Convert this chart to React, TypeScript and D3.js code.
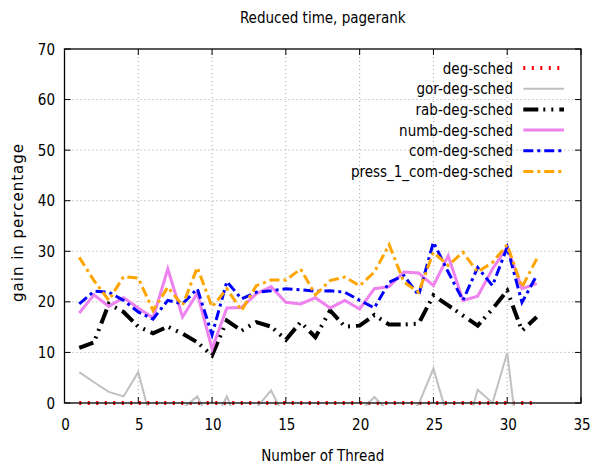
import React from "react";
import * as d3 from "d3";

const threads = d3.range(1, 33);
const degSched = threads.map(() => 0);
const gorDegSched = [6.1, 4.1, 2.2, 1.3, 6.1, -5, -4, -1.1, 1.3, -4.4, 1.3, -5.9, -1.0, 2.5, -3.3, -3, -3, -3, -3, -1.8, 1.2, -1.8, -3, -0.2, 6.8, -3.2, -7.8, 2.6, 0, 9.9, -14, -5];
const rabDegSched = [10.9, 12, 19.6, 18, 15.1, 13.8, 15.1, 13.7, 12, 9.4, 16.3, 14.3, 16, 15.1, 12.5, 16, 13, 18.3, 15.1, 15.3, 17.4, 15.5, 15.5, 15.7, 21.3, 19.3, 17.3, 15.3, 18.6, 22.2, 14.3, 17];
const numbDegSched = [17.8, 21.4, 19.1, 20.8, 18.8, 16.8, 26.5, 17, 21.7, 10.7, 18.8, 18.9, 21.6, 23, 19.9, 19.6, 20.8, 18.8, 20.3, 18.6, 22.6, 23, 25.9, 25.7, 23.2, 29.1, 20.3, 21.1, 26.5, 30.8, 22.6, 23.6];
const comDegSched = [19.6, 22.1, 21.9, 20.3, 18, 16.6, 20.3, 19.6, 22.6, 13.5, 24, 20.6, 21.9, 22.2, 22.6, 22.4, 22.1, 22.2, 21.9, 20.3, 18.8, 23.9, 25.2, 21.3, 31.8, 25.9, 20.3, 26.8, 23.2, 30.8, 19.9, 25.2];
const press1ComDegSched = [28.8, 24.2, 20.3, 25, 24.7, 18.3, 22.9, 19.3, 26.8, 19, 22.6, 18.3, 23.2, 24.3, 24.3, 26.5, 21.4, 24.2, 24.9, 23.2, 25.9, 31.3, 23.9, 21.9, 29.8, 27.2, 29.8, 25.9, 27.8, 31.3, 22.9, 28.5];

const xTicks = [0, 5, 10, 15, 20, 25, 30, 35];
const yTicks = [0, 10, 20, 30, 40, 50, 60, 70];
const title = "Reduced time, pagerank";
const xLabel = "Number of Thread";
const yLabel = "gain in percentage";

const seriesNames = ["deg-sched", "gor-deg-sched", "rab-deg-sched", "numb-deg-sched", "com-deg-sched", "press_1_com-deg-sched"];
const seriesValues = [degSched, gorDegSched, rabDegSched, numbDegSched, comDegSched, press1ComDegSched];
const seriesStyles = [
  { color: "#ff0000", width: 4, dash: "2 6.5" },
  { color: "#c0c0c0", width: 2, dash: "" },
  { color: "#000000", width: 4, dash: "15 5 2 6 2 6" },
  { color: "#ee82ee", width: 3, dash: "" },
  { color: "#0000ff", width: 3, dash: "10 4 3 4" },
  { color: "#ffa500", width: 3, dash: "10 4 3 4" },
];

const W = 594, H = 468;
const L = 64.5, R = 581, T = 49, B = 403;
const FONT = "'DejaVu Sans Condensed', 'DejaVu Sans', sans-serif";

export default function App() {
  const x = d3.scaleLinear().domain([0, 35]).range([L, R]);
  const y = d3.scaleLinear().domain([0, 70]).range([B, T]);
  const line = d3.line<number>().x((_, i) => x(threads[i])).y((d) => y(d));
  const tick = 6;
  return (
    <svg width={W} height={H} style={{ position: "absolute", left: 0, top: 0, background: "#fff" }} fontFamily={FONT}>
      <defs>
        <clipPath id="plot">
          <rect x={L} y={T} width={R - L} height={B - T + 3} />
        </clipPath>
      </defs>
      <rect x={0} y={0} width={W} height={H} fill="#fff" />
      {/* grid */}
      {xTicks.filter((t) => t > 0 && t < 35).map((t) => (
        <line key={"gx" + t} x1={x(t)} x2={x(t)} y1={T} y2={B} stroke="#a0a0a0" strokeWidth={1} strokeDasharray="1 3" />
      ))}
      {yTicks.filter((t) => t > 0 && t < 70).map((t) => (
        <line key={"gy" + t} x1={L} x2={R} y1={y(t)} y2={y(t)} stroke="#a0a0a0" strokeWidth={1} strokeDasharray="1 3" />
      ))}
      {/* ticks */}
      {xTicks.map((t) => (
        <g key={"tx" + t}>
          <line x1={x(t)} x2={x(t)} y1={B} y2={B - tick} stroke="#000" />
          <line x1={x(t)} x2={x(t)} y1={T} y2={T + tick} stroke="#000" />
          <text x={x(t) + 1} y={430} textAnchor="middle" fontSize={15} fontStretch="condensed">{t}</text>
        </g>
      ))}
      {yTicks.map((t) => (
        <g key={"ty" + t}>
          <line x1={L} x2={L + tick} y1={y(t)} y2={y(t)} stroke="#000" />
          <line x1={R} x2={R - tick} y1={y(t)} y2={y(t)} stroke="#000" />
          <text x={55} y={y(t) + 5.5} textAnchor="end" fontSize={15} fontStretch="condensed">{t}</text>
        </g>
      ))}
      {/* series */}
      <g clipPath="url(#plot)">
        {seriesValues.map((vals, i) => (
          <path key={"s" + i} d={line(vals) || ""} fill="none" stroke={seriesStyles[i].color}
            strokeWidth={seriesStyles[i].width} strokeDasharray={seriesStyles[i].dash || undefined}
            strokeLinejoin="miter" strokeLinecap="butt" />
        ))}
      </g>
      {/* frame */}
      <rect x={L} y={T} width={R - L} height={B - T} fill="none" stroke="#000" strokeWidth={1.3} />
      {/* legend */}
      {seriesNames.map((n, i) => {
        const ly = 68 + i * 20.7;
        const s = seriesStyles[i];
        return (
          <g key={"lg" + i}>
            <text x={513} y={ly + 5.5} textAnchor="end" fontSize={15} fontStretch="condensed">{n}</text>
            <line x1={523.3} x2={564} y1={ly} y2={ly} stroke={s.color} strokeWidth={s.width}
              strokeDasharray={s.dash || undefined} />
          </g>
        );
      })}
      {/* labels */}
      <text x={(L + R) / 2} y={23} textAnchor="middle" fontSize={15} fontStretch="condensed">{title}</text>
      <text x={(L + R) / 2} y={461} textAnchor="middle" fontSize={15} fontStretch="condensed">{xLabel}</text>
      <text transform={`translate(23, ${(143 + 302) / 2}) rotate(-90)`} textAnchor="middle" fontSize={15}
        fontFamily="'DejaVu Sans', sans-serif" letterSpacing={1}>{yLabel}</text>
    </svg>
  );
}
